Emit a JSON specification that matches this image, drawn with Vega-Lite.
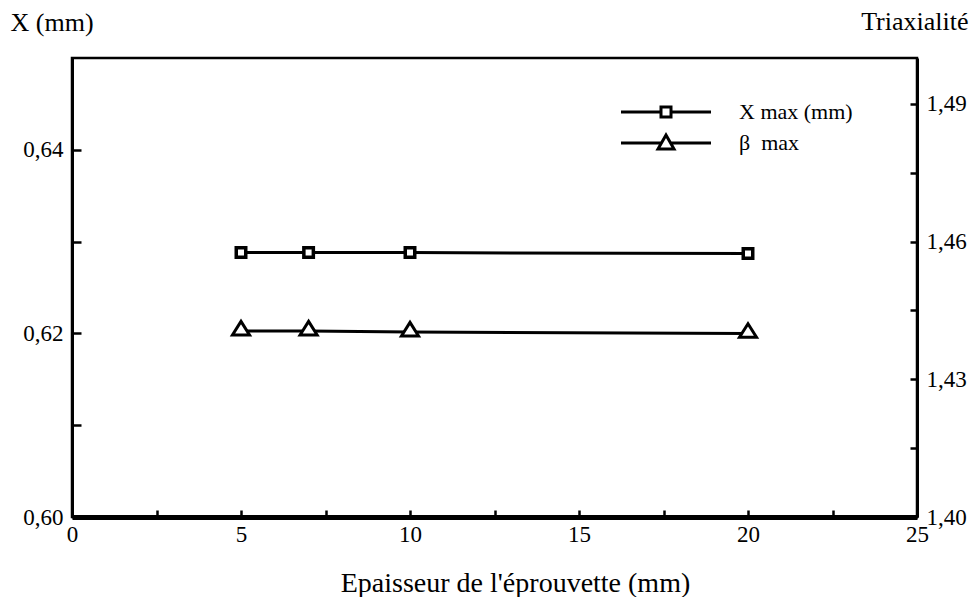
{
  "$schema": "https://vega.github.io/schema/vega-lite/v6.json",
  "width": 845,
  "height": 459,
  "autosize": {"type": "none"},
  "padding": {"left": 72, "top": 58, "right": 55, "bottom": 80},
  "background": "white",
  "config": {
    "font": "Liberation Serif",
    "view": {"stroke": "black", "strokeWidth": 2.5},
    "axis": {
      "grid": false,
      "domainColor": "black",
      "domainWidth": 3,
      "tickColor": "black",
      "tickWidth": 2.5,
      "labelColor": "black",
      "labelFont": "Liberation Serif",
      "labelFontSize": 23,
      "titleFont": "Liberation Serif",
      "titleFontSize": 26,
      "titleFontWeight": "normal",
      "titleColor": "black"
    },
    "legend": {"symbolStrokeWidth": 3}
  },
  "data": {
    "values": [
      {"e": 5, "xmax": 0.6288, "bmax": 1.4405},
      {"e": 7, "xmax": 0.6288, "bmax": 1.4405},
      {"e": 10, "xmax": 0.6288, "bmax": 1.4403},
      {"e": 20, "xmax": 0.6287, "bmax": 1.44}
    ]
  },
  "encoding": {
    "x": {
      "field": "e",
      "type": "quantitative",
      "scale": {"domain": [0, 25], "nice": false, "zero": false},
      "axis": {
        "values": [0, 2.5, 5, 7.5, 10, 12.5, 15, 17.5, 20, 22.5, 25],
        "labelExpr": "datum.value % 5 === 0 ? datum.label : ''",
        "tickSize": -7,
        "labelPadding": 13,
        "labelFlush": false,
        "domainWidth": 5,
        "title": "Epaisseur de l'éprouvette (mm)",
        "titleFontSize": 28,
        "titleX": 443,
        "titleY": 66,
        "titleBaseline": "middle"
      }
    }
  },
  "layer": [
    {
      "encoding": {
        "y": {
          "field": "xmax",
          "type": "quantitative",
          "scale": {"domain": [0.6, 0.65], "nice": false, "zero": false},
          "axis": {
            "orient": "left",
            "values": [0.6, 0.61, 0.62, 0.63, 0.64],
            "labelExpr": "round(datum.value*100) % 2 === 0 ? replace(format(datum.value, '.2f'), '.', ',') : ''",
            "tickSize": -9,
            "labelPadding": 18,
            "title": "X (mm)",
            "titleAngle": 0,
            "titleAlign": "left",
            "titleBaseline": "middle",
            "titleX": -62,
            "titleY": -36
          }
        }
      },
      "layer": [
        {"mark": {"type": "line", "color": "black", "strokeWidth": 3}, "encoding": {}},
        {
          "mark": {"type": "point", "shape": "square", "filled": true, "fill": "white", "stroke": "black", "strokeWidth": 3.5, "size": 90, "opacity": 1},
          "encoding": {}
        },
        {
          "transform": [{"filter": "false"}],
          "mark": {"type": "point", "filled": true, "fill": "white", "stroke": "black", "strokeWidth": 3, "size": 100, "opacity": 1},
          "encoding": {
            "shape": {
              "datum": "X max (mm)",
              "scale": {
                "domain": ["X max (mm)", "β\u00a0 max"],
                "range": ["M-9,0H-1M1,0H9M-1,-1H1V1H-1Z", "M-9,0H-0.95M0.95,0H9M0,-1.6L1.6,1.2H-1.6Z"]
              },
              "legend": {
                "orient": "none",
                "legendX": 583,
                "legendY": 43,
                "title": null,
                "labelFont": "Liberation Serif",
                "labelFontSize": 22,
                "labelColor": "black",
                "labelOffset": 62,
                "rowPadding": 6,
                "symbolSize": 100,
                "symbolStrokeWidth": 3,
                "encode": {
                  "symbols": {
                    "update": {
                      "fill": {"value": "white"},
                      "stroke": {"value": "black"},
                      "strokeWidth": {"value": 3},
                      "opacity": {"value": 1},
                      "fillOpacity": {"value": 1},
                      "strokeOpacity": {"value": 1}
                    }
                  }
                }
              }
            }
          }
        }
      ]
    },
    {
      "encoding": {
        "y": {
          "field": "bmax",
          "type": "quantitative",
          "scale": {"domain": [1.4, 1.5], "nice": false, "zero": false},
          "axis": {
            "orient": "right",
            "values": [1.4, 1.415, 1.43, 1.445, 1.46, 1.475, 1.49],
            "labelExpr": "(round(datum.value*1000) - 1400) % 30 === 0 ? replace(format(datum.value, '.2f'), '.', ',') : ''",
            "tickSize": -7,
            "labelPadding": 16,
            "title": "Triaxialité",
            "titleAngle": 0,
            "titleAlign": "right",
            "titleBaseline": "middle",
            "titleX": 51,
            "titleY": -37
          }
        }
      },
      "layer": [
        {"mark": {"type": "line", "color": "black", "strokeWidth": 3}, "encoding": {}},
        {
          "mark": {"type": "point", "shape": "M0,-1.25L1.1,0.5H-1.1Z", "filled": true, "fill": "white", "stroke": "black", "strokeWidth": 3, "size": 240, "opacity": 1},
          "encoding": {}
        },
        {
          "transform": [{"filter": "false"}],
          "mark": {"type": "point", "filled": true, "fill": "white", "stroke": "black", "strokeWidth": 3, "size": 100, "opacity": 1},
          "encoding": {
            "shape": {"datum": "β\u00a0 max"}
          }
        }
      ]
    }
  ],
  "resolve": {"scale": {"y": "independent"}}
}
